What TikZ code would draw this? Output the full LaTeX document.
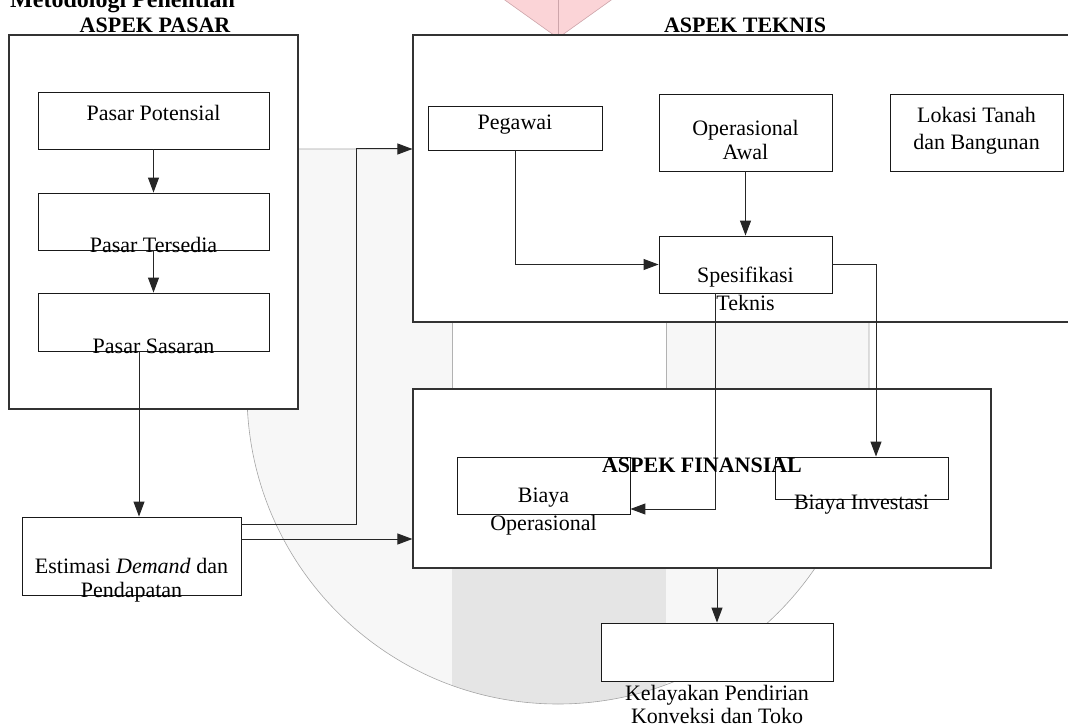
\documentclass[tikz,border=0pt]{standalone}
\usepackage{fontspec}
\setmainfont{Liberation Serif}
\usetikzlibrary{positioning,calc,arrows,arrows.meta}
\tikzset{font=\fontsize{22}{24}\selectfont}
\definecolor{logopink}{RGB}{251,212,215}
\definecolor{logoedge}{RGB}{205,165,170}

\begin{document}
\begin{tikzpicture}[x=1pt, y=-1pt, >={Triangle[length=15pt,width=11pt]}]
	\useasboundingbox (0,0) rectangle (1068,727);

	% faint logo behind the diagram
	\begin{scope}[line width=0.6pt]
		\filldraw[fill=logopink, draw=logoedge] (502,-2) -- (558,38) -- (614,-2);
		\draw[logoedge] (558,-2) -- (558,38);
		\fill[black!3] (247,149) -- (247,393) arc[start angle=180, end angle=0, radius=311] -- (869,149) -- cycle;
		\begin{scope}
			\clip (247,149) -- (247,393) arc[start angle=180, end angle=0, radius=311] -- (869,149) -- cycle;
			\fill[white] (452,149) rectangle (666,568);
			\draw[black!30] (452,149) -- (452,568) (666,149) -- (666,568);
			\fill[black!10] (452,568) rectangle (666,800);
		\end{scope}
		\draw[black!35] (247,149) -- (247,393) arc[start angle=180, end angle=0, radius=311] -- (869,149) -- cycle;
	\end{scope}

	\begin{scope}
		\tikzstyle{every node}=[inner sep=0pt]
		\tikzstyle{frame}=[draw=black!80, fill=white, line width=1.2pt]
		\tikzstyle{box}=[draw=black!90, fill=white, line width=0.9pt]
		\tikzstyle{txt}=[text height=15pt, text depth=0pt]
		\tikzstyle{head}=[txt, font=\bfseries\fontsize{22}{24}\selectfont]

		% outer blocks
		\node[frame, minimum width=289, minimum height=374] (pasar) at (153.5,222) {};
		\node[frame, minimum width=662, minimum height=287] (teknis) at (744,178.5) {};
		\node[frame, minimum width=578, minimum height=179] (finansial) at (702,478.5) {};

		% boxes
		\node[box, minimum width=231, minimum height=57] (potensial) at (153.5,120.5) {};
		\node[box, minimum width=231, minimum height=57] (tersedia) at (153.5,221.5) {};
		\node[box, minimum width=231, minimum height=58] (sasaran) at (153.5,322) {};
		\node[box, minimum width=219, minimum height=78] (estimasi) at (131.5,556) {};
		\node[box, minimum width=174, minimum height=44] (pegawai) at (515,128) {};
		\node[box, minimum width=173, minimum height=77] (awal) at (745.5,132.5) {};
		\node[box, minimum width=173, minimum height=77] (lokasi) at (976.5,132.5) {};
		\node[box, minimum width=173, minimum height=57] (spek) at (745.5,264.5) {};
		\node[box, minimum width=173, minimum height=57] (biayaop) at (543.5,485.5) {};
		\node[box, minimum width=173, minimum height=42] (biayainv) at (861.5,478) {};
		\node[box, minimum width=232, minimum height=58] (kelayakan) at (717,652) {};

		% bends
		\coordinate (k1) at (139,0);
		\coordinate (k2) at (356,524);
		\coordinate (k3) at (0,149);
		\coordinate (k4) at (0,539);
		\coordinate (k5) at (876,0);
		\coordinate (k6) at (715,509);

		\begin{scope}[line width=1pt, black!85]
			\draw[->] (potensial) -- (tersedia);
			\draw[->] (tersedia) -- (sasaran);
			\draw[->] (sasaran.south -| k1) -- (estimasi.north -| k1);
			\draw[->] (estimasi.east |- k2) -| (k2 |- k3) -- (teknis.west |- k3);
			\draw[->] (estimasi.east |- k4) -- (finansial.west |- k4);
			\draw[->] (pegawai) |- (spek);
			\draw[->] (awal) -- (spek);
			\draw[->] (spek) -| (biayainv.north -| k5);
			\draw[->] (spek.south -| k6) |- (biayaop.east |- k6);
			\draw[->] (finansial.south -| kelayakan.north) -- (kelayakan);
		\end{scope}

		% texts
		\node[anchor=base west, font=\bfseries\fontsize{24}{26}\selectfont] (judul) at (10,8) {Metodologi Penelitian};
		\node[head] (h-pasar) at (155,25) {ASPEK PASAR};
		\node[head] (h-teknis) at (745,25) {ASPEK TEKNIS};
		\node[head] (h-finansial) at (702,465) {ASPEK FINANSIAL};

		\node[txt] (t-potensial) at (153.5,113) {Pasar Potensial};
		\node[txt] (t-tersedia) at (153.5,245) {Pasar Tersedia};
		\node[txt] (t-sasaran) at (153.5,346) {Pasar Sasaran};
		\node[txt] (t-estimasi) at (131.5,566) {Estimasi \textit{Demand} dan};
		\node[txt] (t-estimasi2) at (131.5,590) {Pendapatan};
		\node[txt] (t-pegawai) at (515,122) {Pegawai};
		\node[txt] (t-awal) at (745.5,128) {Operasional};
		\node[txt] (t-awal2) at (745.5,152) {Awal};
		\node[txt] (t-lokasi) at (976.5,115) {Lokasi Tanah};
		\node[txt] (t-lokasi2) at (976.5,142) {dan Bangunan};
		\node[txt] (t-spek) at (745.5,275) {Spesifikasi};
		\node[txt] (t-spek2) at (745.5,303) {Teknis};
		\node[txt] (t-biayaop) at (543.5,495) {Biaya};
		\node[txt] (t-biayaop2) at (543.5,523) {Operasional};
		\node[txt] (t-biayainv) at (861.5,502) {Biaya Investasi};
		\node[txt] (t-kelayakan) at (717,693) {Kelayakan Pendirian};
		\node[txt] (t-kelayakan2) at (717,716) {Konveksi dan Toko};
	\end{scope}
\end{tikzpicture}
\end{document}
